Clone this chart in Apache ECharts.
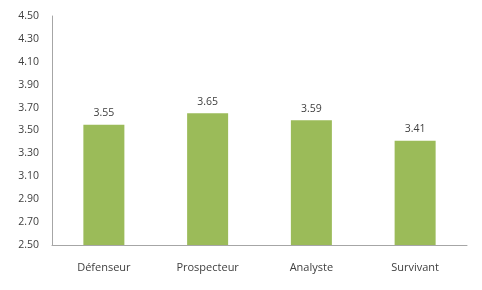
<!DOCTYPE html>
<html>
<head>
<meta charset="utf-8">
<script src="https://cdn.jsdelivr.net/npm/echarts@6/dist/echarts.min.js"></script>
<style>html,body{margin:0;padding:0;background:#fff;}#c{width:482px;height:290px;}</style>
</head>
<body>
<div id="c"></div>
<script>
const categories = ['Défenseur', 'Prospecteur', 'Analyste', 'Survivant'];
const values = [3.55, 3.65, 3.59, 3.41];
const yMin = 2.5, yMax = 4.5, yStep = 0.2;

const chart = echarts.init(document.getElementById('c'), null, {renderer: 'canvas'});
const font = 'Open Sans';
chart.setOption({
  animation: false,
  backgroundColor: '#ffffff',
  grid: {left: 52, right: 15, top: 16, bottom: 45, containLabel: false},
  xAxis: {
    type: 'category',
    data: categories,
    axisLine: {lineStyle: {color: '#a6a6a6', width: 1}},
    axisTick: {show: false},
    axisLabel: {color: '#404040', fontFamily: font, fontSize: 11, margin: 17}
  },
  yAxis: {
    type: 'value',
    min: yMin, max: yMax, interval: yStep,
    axisLine: {show: true, lineStyle: {color: '#a6a6a6', width: 1}},
    axisTick: {show: false},
    splitLine: {show: false},
    axisLabel: {color: '#404040', fontFamily: font, fontSize: 10.5, margin: 13,
      formatter: v => v.toFixed(2)}
  },
  series: [{
    type: 'bar',
    data: values,
    barWidth: 41,
    itemStyle: {color: '#9bbb59'},
    label: {show: true, position: 'top', distance: 6, color: '#404040', fontFamily: font, fontSize: 10.5,
      formatter: p => p.value.toFixed(2)}
  }]
});
</script>
</body>
</html>
